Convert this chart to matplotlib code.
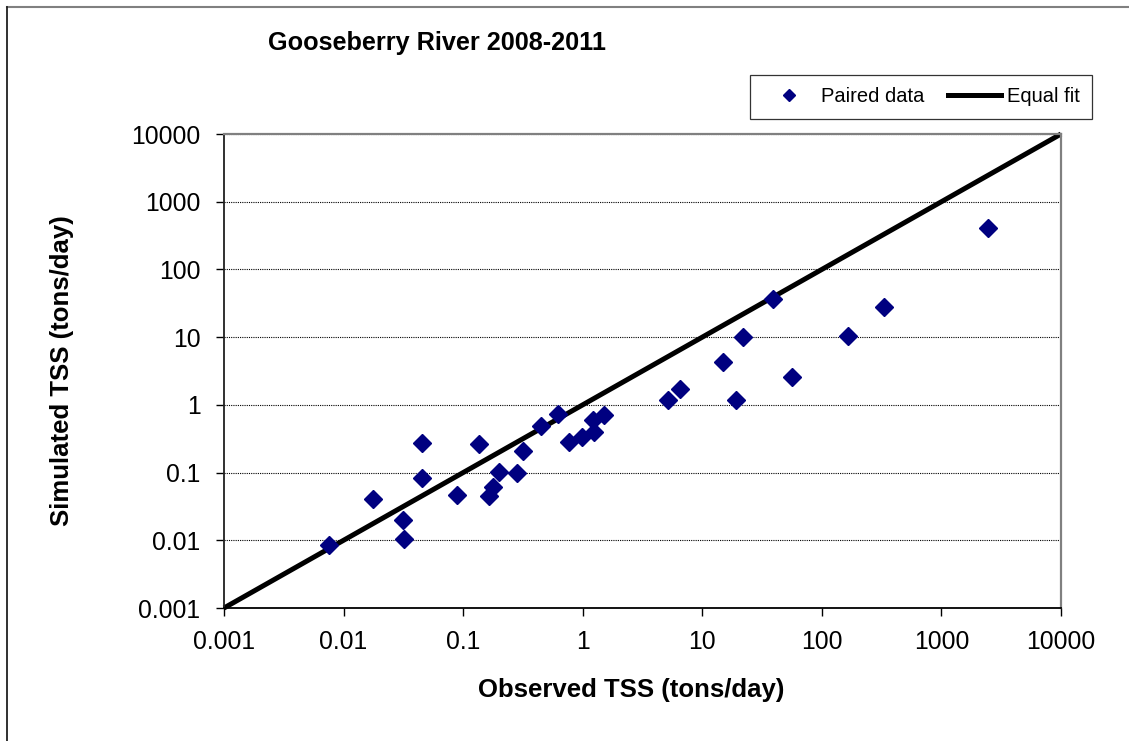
import numpy as np
import matplotlib
matplotlib.use("Agg")
import matplotlib.pyplot as plt
from matplotlib.lines import Line2D

plt.rcParams['font.family'] = ['Liberation Sans', 'DejaVu Sans']

# observed / simulated TSS (tons/day)
observed = [0.0076, 0.0176, 0.0313, 0.0319, 0.045, 0.045, 0.089, 0.137, 0.163, 0.177,
            0.201, 0.281, 0.315, 0.449, 0.617, 0.773, 0.98, 1.21, 1.25, 1.51,
            5.19, 6.54, 14.8, 19.3, 21.7, 39.1, 56.0, 165.6, 331, 2445]
simulated = [0.0084, 0.041, 0.020, 0.0104, 0.082, 0.275, 0.047, 0.26, 0.045, 0.0615,
             0.101, 0.097, 0.207, 0.483, 0.743, 0.281, 0.332, 0.593, 0.40, 0.70,
             1.19, 1.74, 4.26, 1.16, 10.1, 36.8, 2.59, 10.3, 28.0, 411]
fit_range = [0.001, 10000]
ticks = [0.001, 0.01, 0.1, 1, 10, 100, 1000, 10000]
tick_labels = ['0.001', '0.01', '0.1', '1', '10', '100', '1000', '10000']

W, H = 1129, 741
fig = plt.figure(figsize=(W / 100, H / 100), dpi=100)
ax = fig.add_axes([224 / W, 1 - 608 / H, (1061 - 224) / W, (608 - 134) / H])

ax.plot(fit_range, fit_range, color='black', lw=3.6, solid_capstyle='butt', zorder=2, clip_on=False)
ax.plot(observed, simulated, 'D', color='#000080', ms=8.8, mec='#000080', ls='none', zorder=3)

ax.set_xscale('log')
ax.set_yscale('log')
ax.set_xlim(0.001, 10000)
ax.set_ylim(0.001, 10000)
ax.set_xticks(ticks)
ax.set_xticklabels(tick_labels)
ax.set_yticks(ticks)
ax.set_yticklabels(tick_labels)
ax.minorticks_off()
ax.tick_params(axis='both', labelsize=17.8, direction='out', length=6, width=1, color='black')
ax.tick_params(axis='x', pad=10)
ax.tick_params(axis='y', pad=11)
ax.yaxis.grid(True, color='black', ls=(0, (1, 1)), lw=0.8)
ax.set_axisbelow(True)

for s in ['top', 'right']:
    ax.spines[s].set_color('#808080')
    ax.spines[s].set_linewidth(1.6)
ax.spines['left'].set_color('#202020')
ax.spines['bottom'].set_color('black')
ax.spines['left'].set_linewidth(1.3)
ax.spines['bottom'].set_linewidth(1.3)

fig.text(437 / W, 1 - 43 / H, 'Gooseberry River 2008-2011', ha='center', va='center',
         fontsize=18.2, fontweight='bold')
fig.text(631 / W, 1 - 690 / H, 'Observed TSS (tons/day)', ha='center', va='center',
         fontsize=18.5, fontweight='bold')
fig.text(62 / W, 1 - 371 / H, 'Simulated TSS (tons/day)', ha='center', va='center',
         rotation=90, fontsize=18.5, fontweight='bold')

handles = [Line2D([], [], marker='D', color='#000080', ls='none', ms=6),
           Line2D([], [], color='black', lw=3.6)]
leg = fig.legend(handles, ['Paired data', 'Equal fit'], loc='center',
                 bbox_to_anchor=(921 / W, 1 - 97 / H), ncol=2, fontsize=14.5,
                 frameon=True, fancybox=False, edgecolor='black', handlelength=2.6,
                 handletextpad=0.3, columnspacing=1.2, borderpad=0.6)
leg.get_frame().set_linewidth(0.9)

# outer chart border (top and left visible)
fig.add_artist(Line2D([7 / W, 1], [1 - 7 / H, 1 - 7 / H], color='#808080', lw=1.5))
fig.add_artist(Line2D([7 / W, 7 / W], [1 - 7 / H, 0], color='#202020', lw=1.3))

fig.savefig('out.png', dpi=100)
